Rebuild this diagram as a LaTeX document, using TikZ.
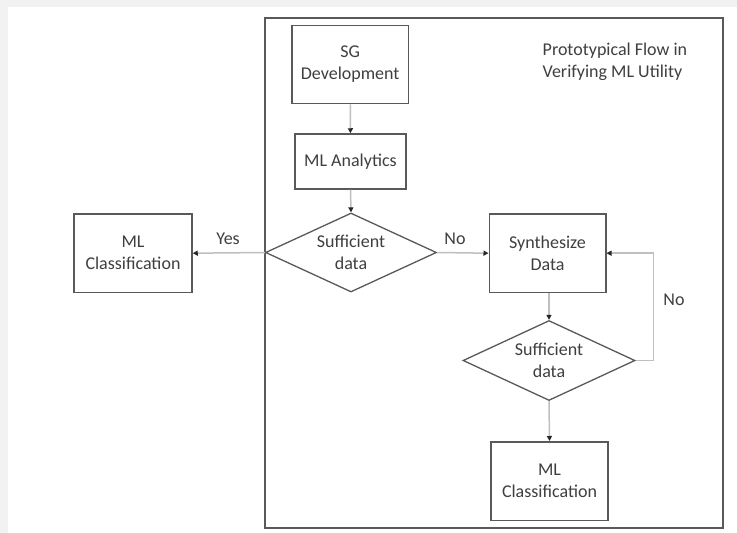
\documentclass[tikz,border=0pt]{standalone}
\usepackage{fontspec}
\setmainfont{Carlito}
\usetikzlibrary{shapes.geometric,arrows.meta,positioning}
\definecolor{bggrey}{HTML}{F2F2F2}
\definecolor{boxline}{HTML}{595959}
\definecolor{conline}{HTML}{BFBFBF}
\definecolor{txt}{HTML}{3F3F3F}
\definecolor{tipc}{HTML}{262626}
\begin{document}
\begin{tikzpicture}[x=1pt,y=-1pt,
  every node/.style={font=\fontsize{18}{22}\selectfont, text=txt},
  procbox/.style={draw=boxline, line width=1.5pt, fill=white, align=center, inner sep=0pt},
  decision/.style={diamond, aspect=2.3, draw=boxline, line width=1.3pt, fill=white, align=center, inner sep=0pt, minimum width=171pt, minimum height=79pt},
  conn/.style={draw=conline, line width=1.5pt, -{Triangle[length=5pt,width=5pt,color=tipc]}},
  lbl/.style={inner sep=0pt}
]
\useasboundingbox (0,0) rectangle (737,533);
\fill[bggrey] (0,0) rectangle (737,533);
\fill[white] (8,7) rectangle (737,533);
\draw[boxline, line width=2pt] (264.5,17.5) rectangle (722.5,527.5);

\node[lbl, anchor=west, align=left] (title) at (542.5,62) {Prototypical Flow in\\Verifying ML Utility};

\node[procbox, minimum width=116.5pt, minimum height=78pt] (sg) at (350.2,64.5) {SG\\Development};
\node[procbox, minimum width=111pt, minimum height=55pt] (mla) at (350.5,161.5) {ML Analytics};
\node[decision] (d1) at (351,252.5) {Sufficient\\data};
\node[procbox, minimum width=118pt, minimum height=78.5pt] (mlc1) at (133,253.2) {ML\\Classification};
\node[procbox, minimum width=116.5pt, minimum height=78.5pt] (syn) at (547.5,253.2) {Synthesize\\Data};
\node[decision, minimum width=172pt, minimum height=80pt] (d2) at (549,360.5) {Sufficient\\data};
\node[procbox, minimum width=117pt, minimum height=78.5pt] (mlc2) at (549.5,481) {ML\\Classification};

\coordinate (loop) at (653.5,300);

\draw[conn] (sg) -- (mla);
\draw[conn] (mla.south) -- (d1.north);
\draw[conn] (d1.west) -- (mlc1.east);
\draw[conn] (d1.east) -- (syn.west);
\draw[conn] (syn.south -| d2.north) -- (d2.north);
\draw[conn] (d2.south) -- (mlc2.north);
\draw[conn] (d2.east) -| (loop) |- (syn.east);

\node[lbl] (yes) at (228,239) {Yes};
\node[lbl] (no1) at (455,239) {No};
\node[lbl] (no2) at (674,300) {No};
\end{tikzpicture}
\end{document}
